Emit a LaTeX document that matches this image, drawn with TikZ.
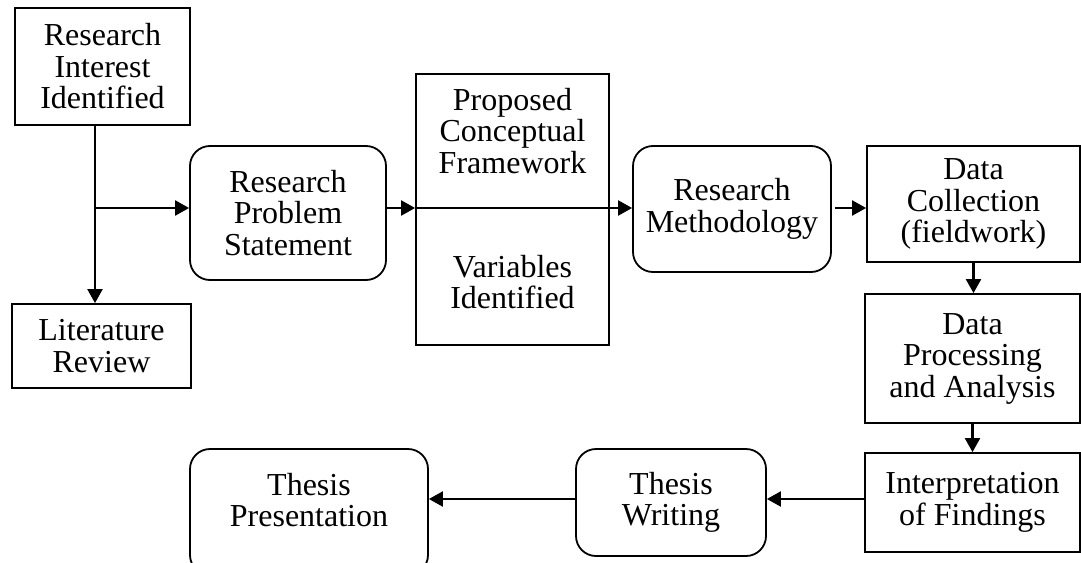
\documentclass[tikz,border=0pt]{standalone}
\usepackage{fontspec}
\setmainfont{Liberation Serif}
\usetikzlibrary{arrows.meta,calc}

\tikzset{
  every node/.style={font=\fontsize{32}{31.5}\selectfont, align=center, inner sep=0pt},
  sqbox/.style={draw, line width=1.8pt},
  rndbox/.style={draw, line width=1.8pt, rounded corners=20pt},
  flow/.style={line width=2.2pt, -{Triangle[length=14pt,width=15pt]}},
}

\begin{document}
\begin{tikzpicture}[x=1pt,y=-1pt]
\useasboundingbox (0,0) rectangle (1081,562);
\clip (0,0) rectangle (1081,562);

% left column
\node[sqbox, minimum width=175pt, minimum height=117pt] (rii) at (102.5,66.5)
  {Research\\Interest\\Identified};
\node[sqbox, minimum width=179pt, minimum height=84pt] (lr) at (101.5,346)
  {Literature\\Review};

% problem statement
\node[rndbox, minimum width=196pt, minimum height=134pt] (rps) at (288,213)
  {Research\\Problem\\Statement};

% framework box with its two captions
\node[sqbox, minimum width=193pt, minimum height=271pt] (pcf) at (512.5,209.5) {};
\node (pcftxt) at (512.5,131) {Proposed\\Conceptual\\Framework};
\node (vartxt) at (512.5,282) {Variables\\Identified};

% methodology and data stages
\node[rndbox, minimum width=198pt, minimum height=126pt] (rm) at (732,209)
  {Research\\Methodology};
\node[sqbox, minimum width=213pt, minimum height=116pt] (dc) at (973.5,204)
  {Data\\Collection\\(fieldwork)};
\node[sqbox, minimum width=215pt, minimum height=129pt] (dpa) at (972.5,358.5)
  {Data\\Processing\\and Analysis};
\node[sqbox, minimum width=215pt, minimum height=99pt] (iof) at (972.5,502.5)
  {Interpretation\\of Findings};

% thesis stages
\node[rndbox, minimum width=190pt, minimum height=107pt] (tw) at (671,502.5)
  {Thesis\\Writing};
\node[rndbox, minimum width=238pt, minimum height=126pt] (tp) at (309,512) {};
\node (tptxt) at (309,500) {Thesis\\Presentation};

% connectors
\coordinate (top) at ([xshift=-7.5pt]rii.south);
\coordinate (branch) at (95,208);
\coordinate (axis) at (416,208);
\draw[flow] (top) -- (top |- lr.north);
\draw[flow] (branch) -- (branch -| rps.west);
\draw[flow] (branch -| rps.east) -- (axis -| pcf.west);
\draw[flow] (axis -| pcf.west) -- (axis -| rm.west);
\draw[flow] ([xshift=3pt]axis -| rm.east) -- (axis -| dc.west);
\draw[flow] (dc.south) -- (dc.south |- dpa.north);
\draw[flow] (dpa.south) -- (iof.north);
\coordinate (low) at (0,499);
\draw[flow] (low -| iof.west) -- (low -| tw.east);
\draw[flow] (low -| tw.west) -- (low -| tp.east);
\end{tikzpicture}
\end{document}
